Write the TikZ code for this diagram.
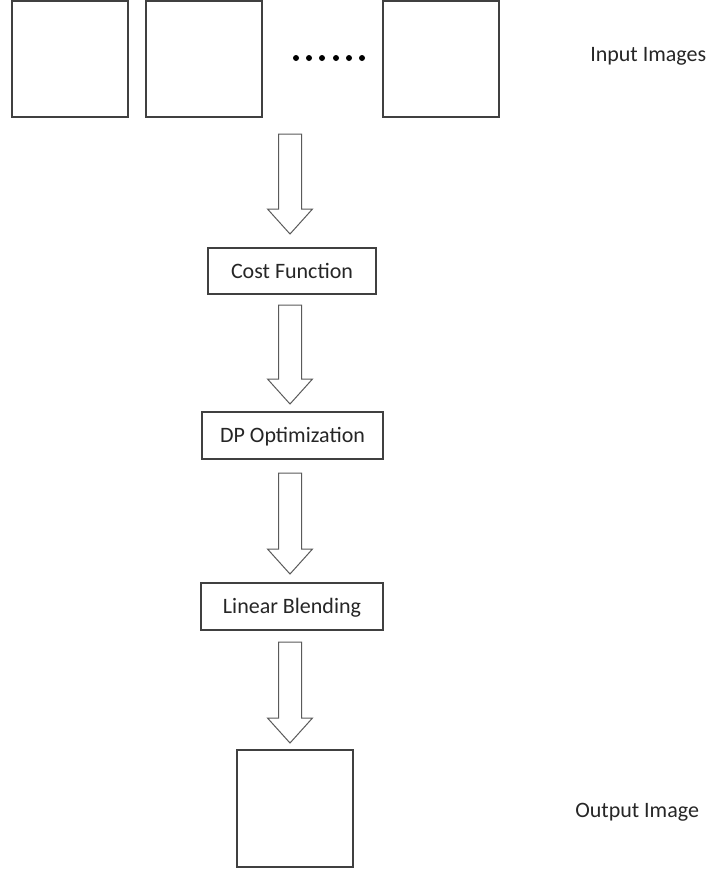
\documentclass[tikz,border=0pt]{standalone}
\usepackage{fontspec}
\setmainfont{Carlito}
\usetikzlibrary{calc}
\def\u{0.75pt}
\definecolor{edge}{HTML}{404040}
\definecolor{arrowedge}{HTML}{5A5A5A}
\definecolor{ink}{HTML}{262626}
\tikzset{
  imgbox/.style={draw=edge, line width=1.2*\u, fill=white, inner sep=0pt,
    minimum width=116*\u, minimum height=116*\u},
  stagebox/.style={draw=edge, line width=1.2*\u, fill=white, inner sep=0pt,
    minimum height=46*\u, text=ink, text height=10.6pt, text depth=0pt,
    font=\fontsize{16.5}{20}\selectfont},
  caption/.style={text=ink, inner sep=0pt, anchor=base west,
    font=\fontsize{16.5}{20}\selectfont},
  flowarrow/.style={draw=arrowedge, line width=1*\u, fill=white, line join=miter}
}
% hollow block arrow from coordinate #1 (tail centre) to coordinate #2 (tip)
\newcommand\flowarrow[2]{%
  \draw[flowarrow] ($(#1)+(-11.5,0)$) -- ($(#1)+(11.5,0)$)
    -- ($(#2)+(11.5,-25)$) -- ($(#2)+(22.5,-25)$) -- (#2)
    -- ($(#2)+(-22.5,-25)$) -- ($(#2)+(-11.5,-25)$) -- cycle;}
\begin{document}
\begin{tikzpicture}[x=\u, y=-\u]
\useasboundingbox (0,0) rectangle (710,871);

% input images
\node[imgbox] (in1) at (70,59) {};
\node[imgbox] (in2) at (204,59) {};
\node[imgbox] (in3) at (441,59) {};
\foreach \dx in {296,309,322,336,349,362}
  \fill[black] (\dx,58) circle (3);
\node[caption] (inlabel) at (590,61) {Input Images};

% processing stages
\node[stagebox, minimum width=168*\u] (cost) at (292,271) {Cost Function};
\node[stagebox, minimum width=181*\u, minimum height=47*\u] (dp) at (292.5,435.5) {DP Optimization};
\node[stagebox, minimum width=182*\u, minimum height=47*\u] (blend) at (292,606.5) {Linear Blending};

% output image
\node[imgbox, minimum height=117*\u] (out) at (295,808.5) {};
\node[caption] (outlabel) at (575,817) {Output Image};

% arrow end points
\coordinate (a1s) at (290,134); \coordinate (a1e) at (290,234);
\coordinate (a2s) at (290,305); \coordinate (a2e) at (290,404);
\coordinate (a3s) at (290,473); \coordinate (a3e) at (290,574);
\coordinate (a4s) at (290,642); \coordinate (a4e) at (290,743);

\flowarrow{a1s}{a1e}
\flowarrow{a2s}{a2e}
\flowarrow{a3s}{a3e}
\flowarrow{a4s}{a4e}
\end{tikzpicture}
\end{document}
